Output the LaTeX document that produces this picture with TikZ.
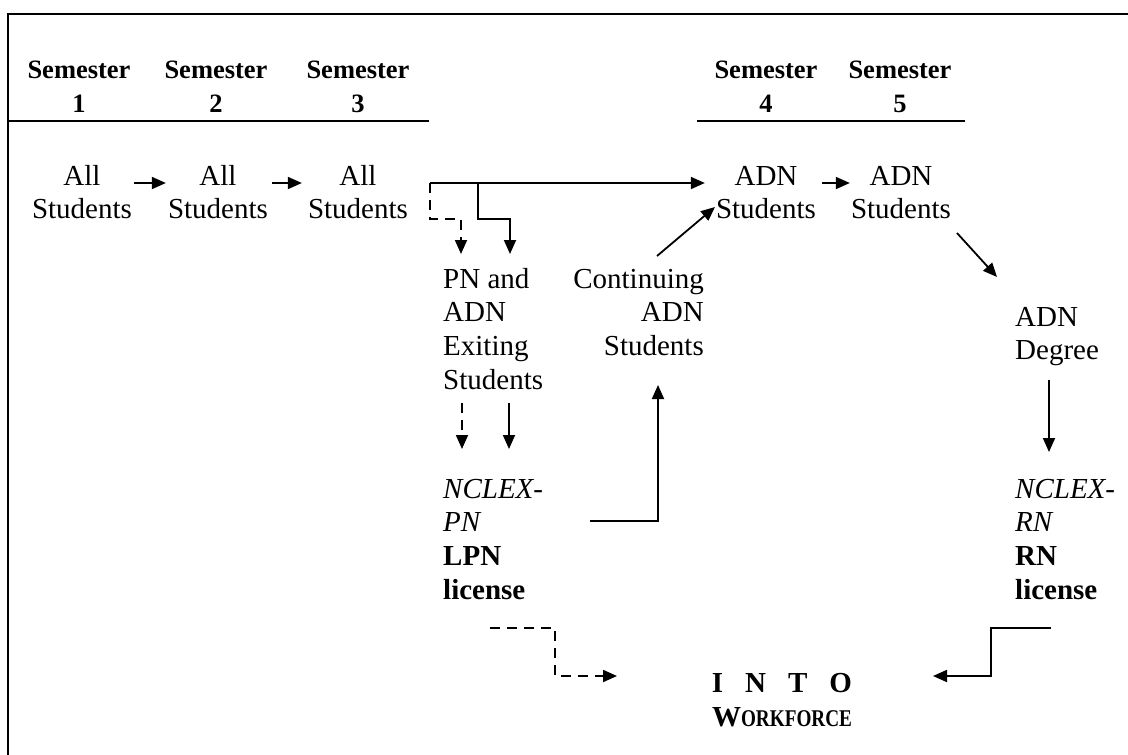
\documentclass[tikz,border=0pt]{standalone}
\usepackage{fontspec}
\setmainfont{Liberation Serif}
\usetikzlibrary{arrows.meta}
\begin{document}
\begin{tikzpicture}[x=1pt,y=-1pt,
  body/.style={inner sep=0pt, font=\fontsize{29}{33.7}\selectfont},
  head/.style={inner sep=0pt, align=center, anchor=north, font=\fontsize{26.5}{34}\selectfont\bfseries},
  arr/.style={line width=1.8pt, -{Triangle[length=14pt,width=12pt]}},
  plain/.style={line width=1.8pt},
  dsh/.style={arr, dash pattern=on 10pt off 7pt},
  rule/.style={line width=2.6pt}]
\useasboundingbox (0,0) rectangle (1128,755);
% frame
\draw[rule] (8,755) -- (8,14) -- (1128,14);
% header rules
\draw[rule] (8,121) -- (429,121);
\draw[rule] (697,121) -- (965,121);
% headers
\node[head] (sem1) at (79,54.2) {\strut Semester\\1};
\node[head] (sem2) at (216,54.2) {\strut Semester\\2};
\node[head] (sem3) at (358,54.2) {\strut Semester\\3};
\node[head] (sem4) at (766,54.2) {\strut Semester\\4};
\node[head] (sem5) at (900,54.2) {\strut Semester\\5};
% row 1
\node[body, align=center, anchor=north] (a1) at (82,161.4) {\strut All\\Students};
\node[body, align=center, anchor=north] (a2) at (218,161.4) {\strut All\\Students};
\node[body, align=center, anchor=north] (a3) at (358,161.4) {\strut All\\Students};
\node[body, align=center, anchor=north] (d4) at (766,161.4) {\strut ADN\\Students};
\node[body, align=center, anchor=north] (d5) at (901,161.4) {\strut ADN\\Students};
% middle
\node[body, align=left, anchor=north west] (pn) at (443,264.4) {\strut PN and\\ADN\\Exiting\\Students};
\node[body, align=right, anchor=north east] (cont) at (704,264.4) {\strut Continuing\\ADN\\Students};
\node[body, align=left, anchor=north west] (npn) at (443,474.4) {\strut\textit{NCLEX-}\\\textit{PN}\\\textbf{LPN}\\\textbf{license}};
\node[body, align=left, anchor=north west] (deg) at (1015,302.4) {\strut ADN\\Degree};
\node[body, align=left, anchor=north west] (nrn) at (1015,474.4) {\strut\textit{NCLEX-}\\\textit{RN}\\\textbf{RN}\\\textbf{license}};
\node[body, align=center, anchor=north, font=\fontsize{29}{34}\selectfont\bfseries] (into) at (782,668.2)
  {\strut I\hspace{22pt}N\hspace{22pt}T\hspace{22pt}O\\W\scalebox{0.8}[1]{\fontsize{24}{24}\selectfont ORKFORCE}};
% split points
\coordinate (sp) at (430,183);
\coordinate (br) at (478,183);
% connectors
\draw[arr, shorten <=2pt, shorten >=2pt] (a1.east |- 0,183) -- (a2.west |- 0,183);
\draw[arr, shorten <=4pt, shorten >=6pt] (a2.east |- 0,183) -- (a3.west |- 0,183);
\draw[arr, shorten >=11pt] (sp) -- (d4.west |- sp);
\draw[arr] (br) |- (510,219) -- (510,254);
\draw[dsh] (sp) |- (461,219) -- (461,254);
\draw[arr] (657,256) -- (715,207);
\draw[arr, shorten <=6pt, shorten >=1pt] (d4.east |- 0,183) -- (d5.west |- 0,183);
\draw[arr] (957,233) -- (997,277);
\draw[arr] (1049,380) -- (1049,452);
\draw[dsh] (462,403) -- (462,449);
\draw[arr] (509,403) -- (509,449);
\draw[arr] (590,521) -| (658,385);
\draw[dsh] (490,628) -| (555,676) -- (617,676);
\draw[arr] (1051,628) -| (991,676) -- (933,676);
\end{tikzpicture}
\end{document}
